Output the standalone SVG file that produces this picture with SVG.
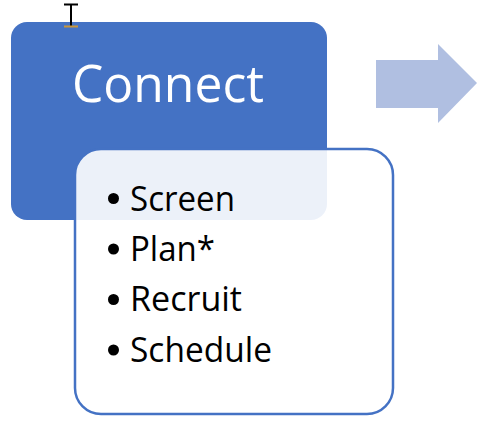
<svg xmlns="http://www.w3.org/2000/svg" width="500" height="440" viewBox="0 0 500 440">
<style>
.item{font-family:"Open Sans","Noto Sans","Liberation Sans",sans-serif;font-size:34px;fill:#000}
.title{font-family:"Open Sans","Noto Sans","Liberation Sans",sans-serif;font-size:52px;fill:#fff}
</style>
<rect width="500" height="440" fill="#fff"/>
<g id="connect">
<rect x="11" y="22" width="316" height="198" rx="16" fill="#4472C4"/>
<text class="title" x="72" y="102" textLength="192" lengthAdjust="spacingAndGlyphs">Connect</text>
</g>
<g id="cursor">
<path d="M64 4.5H78M71 4.5V26" stroke="#000" stroke-width="2" fill="none"/>
<path d="M64 26.5H78" stroke="#C8963C" stroke-width="2" fill="none"/>
</g>
<g id="connectors">
<polygon points="376,60 438,60 438,44 477,83 438,123 438,108 376,108" fill="#B0BFE1"/>
</g>
<g id="tasks">
<rect x="75" y="149" width="318" height="265" rx="26" fill="#fff" fill-opacity="0.9" stroke="#4472C4" stroke-width="2.5"/>
<circle cx="113.5" cy="198.5" r="5.5"/>
<circle cx="113.5" cy="249" r="5.5"/>
<circle cx="113.5" cy="299.5" r="5.5"/>
<circle cx="113.5" cy="350" r="5.5"/>
<text class="item" x="130" y="211" textLength="105" lengthAdjust="spacingAndGlyphs">Screen</text>
<text class="item" x="130" y="261" textLength="85" lengthAdjust="spacingAndGlyphs">Plan*</text>
<text class="item" x="130" y="311" textLength="112" lengthAdjust="spacingAndGlyphs">Recruit</text>
<text class="item" x="130" y="362" textLength="142" lengthAdjust="spacingAndGlyphs">Schedule</text>
</g>
</svg>
